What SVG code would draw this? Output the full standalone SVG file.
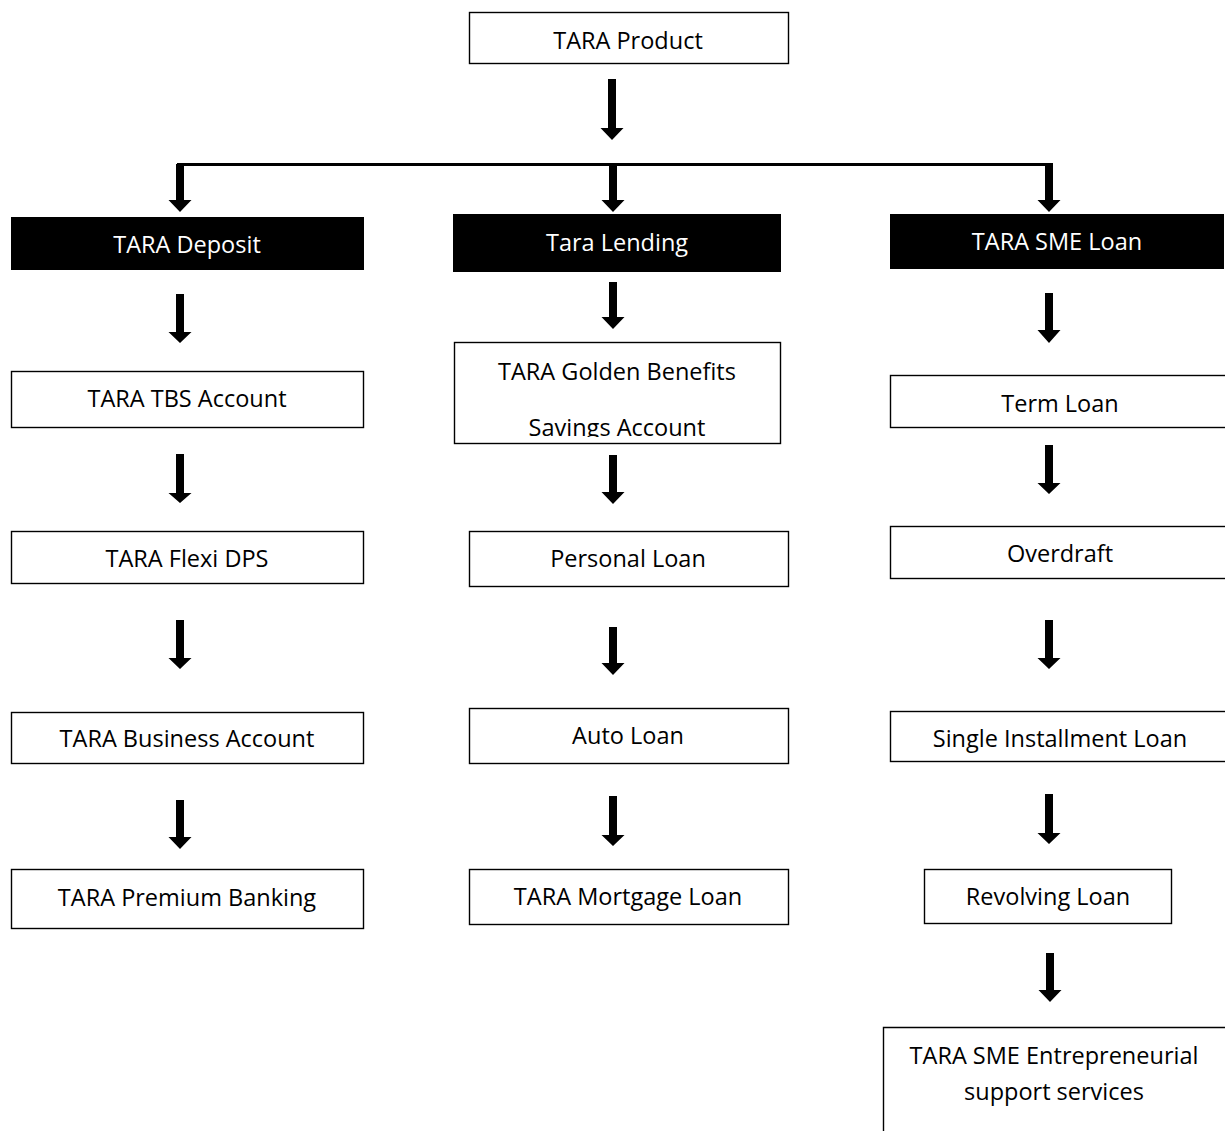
<svg xmlns="http://www.w3.org/2000/svg" width="1225" height="1131" viewBox="0 0 1225 1131">
<style>
.box{fill:#fff;stroke:#000;stroke-width:1.4}
.dark{fill:#000;stroke:#000;stroke-width:1}
.open{fill:none;stroke:#000;stroke-width:1.4}
text{font-family:"Open Sans","Liberation Sans",sans-serif;font-size:23.5px;text-anchor:middle;fill:#000}
.w{fill:#fff}
.arr{fill:#000}
</style>
<defs>
<clipPath id="clipGolden"><rect x="454" y="342" width="327" height="95"/></clipPath>
</defs>
<rect width="1225" height="1131" fill="#fff"/>
<g id="connectors">
<line x1="177" y1="164.5" x2="1053" y2="164.5" stroke="#000" stroke-width="3"/>
<polygon class="arr" points="608,79 616,79 616,128 623.5,128 612,140 600.5,128 608,128"/>
<polygon class="arr" points="176,164 184,164 184,200 191.5,200 180,212 168.5,200 176,200"/>
<polygon class="arr" points="609,164 617,164 617,200 624.5,200 613,212 601.5,200 609,200"/>
<polygon class="arr" points="1045,164 1053,164 1053,200 1060.5,200 1049,212 1037.5,200 1045,200"/>
<polygon class="arr" points="176,294 184,294 184,332 191.5,332 180,343 168.5,332 176,332"/>
<polygon class="arr" points="176,454 184,454 184,493 191.5,493 180,503 168.5,493 176,493"/>
<polygon class="arr" points="176,620 184,620 184,658 191.5,658 180,669 168.5,658 176,658"/>
<polygon class="arr" points="176,800 184,800 184,837 191.5,837 180,849 168.5,837 176,837"/>
<polygon class="arr" points="609,282 617,282 617,317 624.5,317 613,329 601.5,317 609,317"/>
<polygon class="arr" points="609,455 617,455 617,492 624.5,492 613,504 601.5,492 609,492"/>
<polygon class="arr" points="609,627 617,627 617,663 624.5,663 613,675 601.5,663 609,663"/>
<polygon class="arr" points="609,796 617,796 617,835 624.5,835 613,846 601.5,835 609,835"/>
<polygon class="arr" points="1045,293 1053,293 1053,330 1060.5,330 1049,343 1037.5,330 1045,330"/>
<polygon class="arr" points="1045,445 1053,445 1053,483 1060.5,483 1049,494 1037.5,483 1045,483"/>
<polygon class="arr" points="1045,620 1053,620 1053,658 1060.5,658 1049,669 1037.5,658 1045,658"/>
<polygon class="arr" points="1045,794 1053,794 1053,833 1060.5,833 1049,844 1037.5,833 1045,833"/>
<polygon class="arr" points="1046,953 1054,953 1054,990 1061.5,990 1050,1002 1038.5,990 1046,990"/>
</g>
<g id="tara-product"><rect class="box" x="469.5" y="12.5" width="319" height="51"/><text x="628" y="49">TARA Product</text></g>
<g id="tara-deposit"><rect class="dark" x="11.5" y="217.5" width="352" height="52"/><text class="w" x="187" y="253">TARA Deposit</text></g>
<g id="tara-lending"><rect class="dark" x="453.5" y="214.5" width="327" height="57"/><text class="w" x="617" y="251">Tara Lending</text></g>
<g id="tara-sme-loan"><rect class="dark" x="890.5" y="214.5" width="333" height="54"/><text class="w" x="1057" y="250">TARA SME Loan</text></g>
<g id="tara-tbs"><rect class="box" x="11.5" y="371.5" width="352" height="56"/><text x="187" y="407">TARA TBS Account</text></g>
<g id="tara-golden"><rect class="box" x="454.5" y="342.5" width="326" height="101"/><text x="617" y="380">TARA Golden Benefits</text><text x="617" y="436" clip-path="url(#clipGolden)">Savings Account</text></g>
<g id="term-loan"><rect class="box" x="890.5" y="375.5" width="345" height="52"/><text x="1060" y="412">Term Loan</text></g>
<g id="tara-flexi"><rect class="box" x="11.5" y="531.5" width="352" height="52"/><text x="187" y="567">TARA Flexi DPS</text></g>
<g id="personal-loan"><rect class="box" x="469.5" y="531.5" width="319" height="55"/><text x="628" y="567">Personal Loan</text></g>
<g id="overdraft"><rect class="box" x="890.5" y="526.5" width="345" height="52"/><text x="1060" y="562">Overdraft</text></g>
<g id="tara-business"><rect class="box" x="11.5" y="712.5" width="352" height="51"/><text x="187" y="747">TARA Business Account</text></g>
<g id="auto-loan"><rect class="box" x="469.5" y="708.5" width="319" height="55"/><text x="628" y="744">Auto Loan</text></g>
<g id="single-installment"><rect class="box" x="890.5" y="711.5" width="345" height="50"/><text x="1060" y="747">Single Installment Loan</text></g>
<g id="tara-premium"><rect class="box" x="11.5" y="869.5" width="352" height="59"/><text x="187" y="906">TARA Premium Banking</text></g>
<g id="tara-mortgage"><rect class="box" x="469.5" y="869.5" width="319" height="55"/><text x="628" y="905">TARA Mortgage Loan</text></g>
<g id="revolving-loan"><rect class="box" x="924.5" y="869.5" width="247" height="54"/><text x="1048" y="905">Revolving Loan</text></g>
<g id="tara-sme-entrepreneurial"><polyline class="open" points="883.5,1131 883.5,1027.5 1225,1027.5"/><text x="1054" y="1064">TARA SME Entrepreneurial</text><text x="1054" y="1100">support services</text></g>
</svg>
